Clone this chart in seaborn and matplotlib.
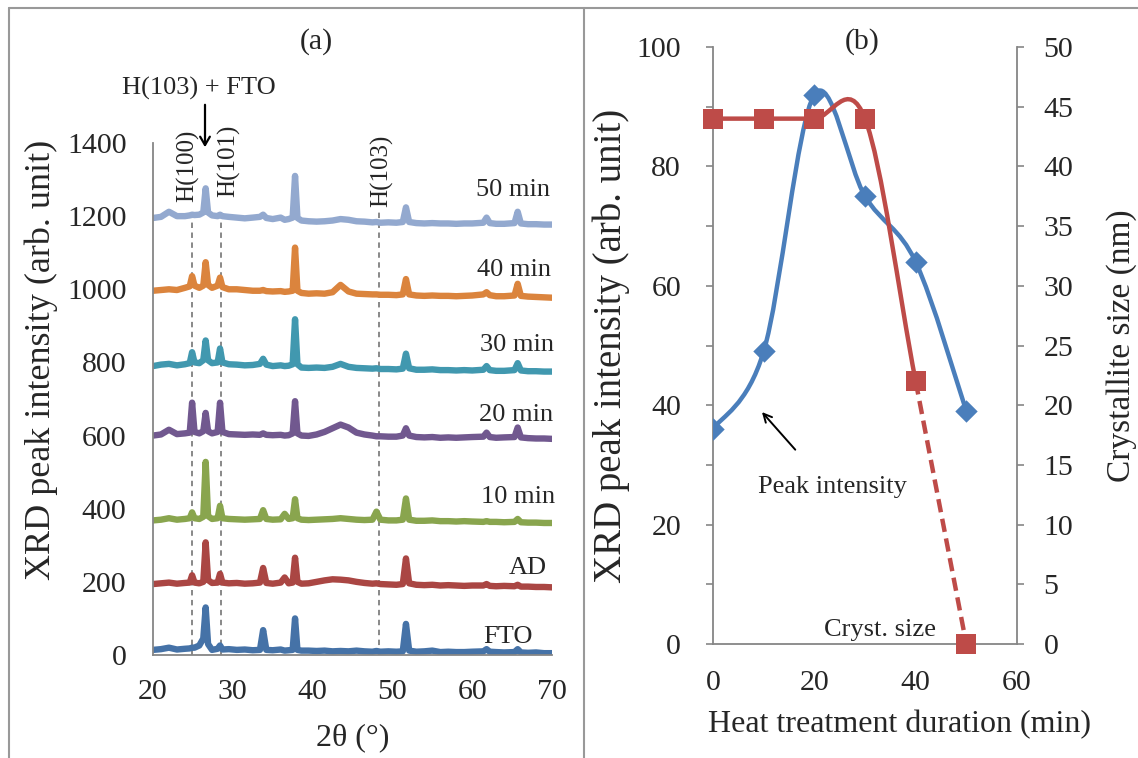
"""
XRD patterns vs heat treatment time (a) and peak intensity / crystallite size (b).
"""

import numpy as np
import pandas as pd
import matplotlib
matplotlib.use("Agg")
import matplotlib.pyplot as plt
import seaborn as sns
from matplotlib.path import Path
from matplotlib.patches import PathPatch, FancyArrowPatch
from matplotlib.lines import Line2D
from matplotlib.ticker import MultipleLocator

# ---- panel (a): XRD patterns (stacked) ----
two_theta = [20, 21, 22, 23, 24, 24.6, 24.9, 25.2, 25.8, 26.3, 26.6, 26.9, 27.4,
             28.1, 28.4, 28.7, 29.5, 30.5, 31.5, 32.5, 33.4, 33.8, 34.2, 35, 36,
             36.5, 37, 37.5, 37.8, 38.1, 38.6, 39.5, 40.5, 41.5, 42.5, 43.5, 44.5,
             45.5, 46.5, 47.5, 48.0, 48.5, 49.5, 50.5, 51.3, 51.7, 52.1, 53, 54,
             55, 56, 57, 58, 59, 60, 61.4, 61.8, 62.2, 63, 64, 65.3, 65.7, 66.1,
             67, 68, 69, 70]

fto = [14, 16, 20, 15, 17, 18, 20, 20, 26, 45, 130, 30, 14,
       17, 26, 15, 16, 14, 15, 13, 14, 68, 14, 13, 15,
       12, 13, 14, 100, 14, 12, 12, 11, 12, 10, 11, 10,
       12, 10, 9, 11, 9, 10, 9, 10, 85, 12, 9, 10,
       12, 8, 9, 8, 8, 9, 10, 16, 9, 8, 7, 8, 16, 7,
       6, 7, 5, 5]

ad = [194, 196, 198, 195, 197, 198, 218, 198, 196, 200, 308, 205, 197,
      198, 222, 198, 196, 197, 195, 196, 198, 238, 197, 195, 198,
      212, 196, 198, 266, 200, 195, 196, 200, 204, 207, 206, 204,
      200, 197, 195, 196, 194, 193, 192, 194, 264, 196, 192, 191,
      192, 190, 191, 190, 189, 190, 190, 194, 189, 188, 189, 188, 192, 187,
      187, 186, 186, 185]

min10 = [368, 370, 374, 370, 372, 374, 390, 374, 372, 378, 528, 380, 372,
         374, 408, 374, 372, 371, 370, 371, 372, 396, 372, 370, 371,
         386, 372, 374, 426, 374, 370, 369, 370, 371, 372, 374, 372,
         370, 369, 370, 392, 370, 368, 368, 370, 428, 370, 367, 367,
         368, 366, 366, 365, 366, 365, 364, 366, 364, 364, 363, 364, 372, 363,
         362, 362, 361, 361]

min20 = [600, 603, 616, 604, 606, 608, 690, 610, 606, 612, 662, 612, 606,
         610, 690, 610, 604, 603, 602, 603, 602, 606, 602, 601, 602,
         600, 601, 606, 694, 606, 600, 599, 603, 610, 620, 630, 622,
         608, 603, 600, 598, 598, 597, 597, 600, 620, 600, 596, 595,
         596, 594, 595, 594, 595, 596, 597, 608, 596, 594, 595, 596, 622, 595,
         593, 592, 592, 591]

min30 = [790, 794, 796, 792, 795, 798, 828, 800, 798, 806, 860, 806, 798,
         800, 838, 800, 795, 794, 792, 793, 796, 810, 794, 790, 792,
         790, 791, 795, 918, 795, 786, 785, 786, 785, 788, 796, 788,
         785, 784, 783, 784, 782, 782, 781, 783, 824, 784, 780, 780,
         781, 779, 779, 778, 779, 778, 780, 790, 779, 777, 777, 779, 798, 778,
         776, 776, 775, 775]

min40 = [996, 998, 1000, 998, 1004, 1008, 1036, 1010, 1004, 1010, 1074, 1012, 1004,
         1010, 1032, 1006, 1000, 1000, 998, 996, 996, 998, 995, 994, 995,
         993, 994, 996, 1114, 996, 990, 988, 989, 988, 992, 1012, 994,
         988, 987, 986, 986, 985, 985, 984, 986, 1028, 986, 983, 982,
         983, 982, 982, 981, 982, 983, 986, 992, 984, 981, 981, 983, 1015, 982,
         980, 979, 978, 977]

min50 = [1195, 1198, 1212, 1200, 1200, 1202, 1204, 1203, 1204, 1210, 1276, 1210, 1202,
         1200, 1204, 1200, 1198, 1196, 1194, 1196, 1198, 1204, 1195, 1192, 1196,
         1190, 1192, 1196, 1310, 1195, 1188, 1186, 1185, 1186, 1188, 1192, 1190,
         1186, 1185, 1183, 1184, 1182, 1183, 1182, 1184, 1224, 1184, 1181, 1180,
         1181, 1180, 1180, 1179, 1180, 1180, 1182, 1196, 1181, 1179, 1179, 1181, 1212, 1180,
         1178, 1178, 1177, 1177]

sample_names = ["FTO", "AD", "10 min", "20 min", "30 min", "40 min", "50 min"]
label_y = [49, 238, 432, 656, 848, 1053, 1271]
label_right = [67.6, 69.4, 70.4, 70.2, 70.2, 69.9, 69.8]
peak_lines = [24.85, 28.5, 48.3]
peak_names = ["H(100)", "H(101)", "H(103)"]
peak_name_x = [24.4, 29.5, 48.7]
peak_name_y = [1240, 1253, 1226]

# ---- panel (b): peak intensity and crystallite size vs time ----
duration = [0, 10, 20, 30, 40, 50]
peak_intensity = [36, 49, 92, 75, 64, 39]
cryst_size = [44, 44, 44, 44, 22, 0]

xrd_colors = ["#4572A7", "#AA4643", "#89A54E", "#71588F", "#4198AF", "#DB843D", "#93A9CF"]
BLUE = "#4A7EBB"
RED = "#BE4B48"
AXIS_GRAY = "#868686"
FS = 21.5
LABEL_FS = 26


def smooth_path(xs, ys):
    # Excel-style smoothed line: Catmull-Rom turned into cubic Beziers
    pts = np.column_stack([xs, ys]).astype(float)
    n = len(pts)
    verts = [pts[0]]
    codes = [Path.MOVETO]
    for i in range(n - 1):
        p0 = pts[max(i - 1, 0)]
        p1 = pts[i]
        p2 = pts[i + 1]
        p3 = pts[min(i + 2, n - 1)]
        verts += [p1 + (p2 - p0) / 6, p2 - (p3 - p1) / 6, p2]
        codes += [Path.CURVE4] * 3
    return Path(verts, codes)


def style_axis(ax):
    for side in ["left", "bottom", "right", "top"]:
        ax.spines[side].set_color(AXIS_GRAY)
        ax.spines[side].set_linewidth(1.3)
    ax.tick_params(which="both", direction="out", length=5, width=1.2,
                   color=AXIS_GRAY, labelsize=FS)


def main():
    sns.set_style("white")
    plt.rcParams["font.family"] = ["Liberation Serif", "DejaVu Serif"]

    fig = plt.figure(figsize=(11.38, 7.58), dpi=100)

    # --- (a) XRD patterns ---
    ax = fig.add_axes([153 / 1138, 1 - 655 / 758, 399 / 1138, 512 / 758])
    series = [fto, ad, min10, min20, min30, min40, min50]
    frames = []
    for name, vals in zip(sample_names, series):
        frames.append(pd.DataFrame({"two_theta": two_theta, "intensity": vals, "sample": name}))
    df = pd.concat(frames, ignore_index=True)
    sns.lineplot(data=df, x="two_theta", y="intensity", hue="sample",
                 hue_order=sample_names, palette=xrd_colors, estimator=None,
                 sort=False, lw=4.6, legend=False, ax=ax,
                 solid_joinstyle="round", solid_capstyle="round")

    for x0 in peak_lines:
        ax.plot([x0, x0], [0, 1215], ls=(0, (3, 2.5)), color="#7f7f7f", lw=1.3, zorder=0)
    for x0, y0, name in zip(peak_name_x, peak_name_y, peak_names):
        ax.text(x0, y0, name, rotation=90, ha="center", va="bottom", fontsize=18)

    for name, y0, x_right in zip(sample_names, label_y, label_right):
        ax.text(x_right, y0, name, ha="right", va="center", fontsize=19)

    ax.set_xlim(20, 70)
    ax.set_ylim(0, 1400)
    ax.xaxis.set_major_locator(MultipleLocator(10))
    ax.xaxis.set_minor_locator(MultipleLocator(5))
    ax.yaxis.set_major_locator(MultipleLocator(200))
    sns.despine(ax=ax)
    style_axis(ax)
    ax.tick_params(axis="x", pad=12)
    ax.tick_params(axis="y", pad=14)
    ax.set_xlabel("2θ (°)", fontsize=23)
    ax.set_ylabel("XRD peak intensity (arb. unit)", fontsize=LABEL_FS)
    ax.xaxis.set_label_coords(0.5, -0.133)
    ax.yaxis.set_label_coords(-0.238, 0.576)

    fig.text(316 / 1138, 1 - 42 / 758, "(a)", ha="center", va="center", fontsize=FS)
    fig.text(199 / 1138, 1 - 88 / 758, "H(103) + FTO", ha="center", va="center", fontsize=19)
    fig.add_artist(FancyArrowPatch(
        (205 / 1138, 1 - 102 / 758), (205 / 1138, 1 - 150 / 758),
        transform=fig.transFigure, arrowstyle="->,head_length=6,head_width=3.5",
        color="black", lw=1.6))

    # --- (b) peak intensity + crystallite size ---
    bx = fig.add_axes([713 / 1138, 1 - 644 / 758, 304 / 1138, 597 / 758])
    bx2 = bx.twinx()

    bx.add_patch(PathPatch(smooth_path(duration, peak_intensity), fill=False,
                           edgecolor=BLUE, lw=3.2, capstyle="round", zorder=2))
    sns.scatterplot(x=duration, y=peak_intensity, marker="D", s=130, color=BLUE,
                    edgecolor=BLUE, linewidth=0, ax=bx, zorder=3)

    smooth = smooth_path(duration, cryst_size)
    verts = smooth.vertices
    codes = smooth.codes
    # solid up to 40 min, dashed for the last segment
    bx2.add_patch(PathPatch(Path(verts[:13], codes[:13]), fill=False,
                            edgecolor=RED, lw=3.2, zorder=2))
    bx2.add_patch(PathPatch(Path(verts[12:], [Path.MOVETO] + list(codes[13:])), fill=False,
                            edgecolor=RED, lw=3.2, ls=(0, (3, 1.5)), zorder=2))
    sns.scatterplot(x=duration, y=cryst_size, marker="s", s=200, color=RED,
                    edgecolor=RED, linewidth=0, ax=bx2, zorder=3, clip_on=False)

    bx.set_xlim(0, 60)
    bx.set_ylim(0, 100)
    bx2.set_ylim(0, 50)
    bx.xaxis.set_major_locator(MultipleLocator(20))
    bx.yaxis.set_major_locator(MultipleLocator(20))
    bx.yaxis.set_minor_locator(MultipleLocator(10))
    bx2.yaxis.set_major_locator(MultipleLocator(5))
    for a in (bx, bx2):
        style_axis(a)
        a.spines["top"].set_visible(False)
        a.set_facecolor("none")
    bx.spines["right"].set_visible(False)
    bx2.spines["left"].set_visible(False)
    bx2.spines["bottom"].set_visible(False)
    bx.tick_params(axis="x", pad=14)
    bx.tick_params(axis="y", pad=18)
    bx2.tick_params(axis="y", pad=14)
    bx.set_xlabel("Heat treatment duration (min)", fontsize=23)
    bx.set_ylabel("XRD peak intensity (arb. unit)", fontsize=LABEL_FS + 2)
    bx2.set_ylabel("Crystallite size (nm)", fontsize=24)
    bx.xaxis.set_label_coords(0.615, -0.110)
    bx.yaxis.set_label_coords(-0.273, 0.5)
    bx2.yaxis.set_label_coords(1.293, 0.5)

    fig.text(862 / 1138, 1 - 42 / 758, "(b)", ha="center", va="center", fontsize=FS)
    bx.annotate("", xy=(9.3, 39.2), xytext=(16.6, 32.2),
                arrowprops=dict(arrowstyle="->,head_length=0.6,head_width=0.3",
                                color="black", lw=1.4))
    bx.text(23.5, 26.3, "Peak intensity", ha="center", va="center", fontsize=19)
    bx.text(33, 2.3, "Cryst. size", ha="center", va="center", fontsize=19)

    # outer frame and divider like the source figure
    frame_kw = dict(color="#999999", lw=1.5, transform=fig.transFigure)
    fig.add_artist(Line2D([9 / 1138, 1], [1 - 8 / 758] * 2, **frame_kw))
    fig.add_artist(Line2D([9 / 1138] * 2, [0, 1 - 8 / 758], **frame_kw))
    fig.add_artist(Line2D([584 / 1138] * 2, [0, 1 - 8 / 758], **frame_kw))

    fig.savefig("out.png", dpi=100)


if __name__ == "__main__":
    main()
